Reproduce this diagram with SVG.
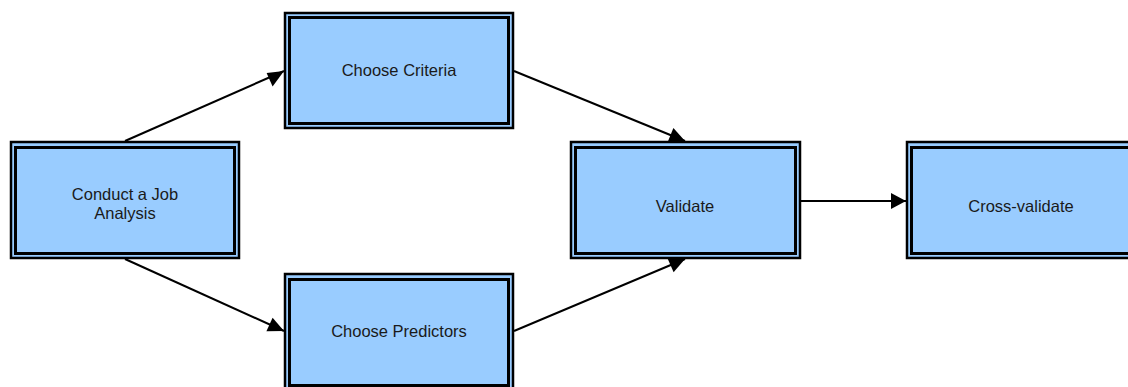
<svg xmlns="http://www.w3.org/2000/svg" width="1128" height="387" viewBox="0 0 1128 387">
<style>
.outer{fill:#99CCFF;stroke:#000;stroke-width:2.5}
.inner{fill:#99CCFF;stroke:#000;stroke-width:3}
.lbl{font-family:"Liberation Sans",Arial,sans-serif;font-size:16.5px;fill:#1a1a1a;text-anchor:middle}
.conn{stroke:#000;stroke-width:2;fill:none}
.head{fill:#000}
</style>
<rect width="1128" height="387" fill="#fff"/>
<g id="connectors">
<path class="conn" d="M125,141 L284,71"/>
<path class="conn" d="M125,259 L284,331"/>
<path class="conn" d="M514,71 L685,141"/>
<path class="conn" d="M514,331 L685,259"/>
<path class="conn" d="M801,201 L906,201"/>
<polygon class="head" points="284,71 266.6,72.9 272.6,86.6"/>
<polygon class="head" points="284,331 272.6,317.7 266.4,331.3"/>
<polygon class="head" points="685,141 673.4,127.9 667.8,141.8"/>
<polygon class="head" points="685,259 667.6,258.6 673.6,272.3"/>
<polygon class="head" points="906,201 891,193 891,209"/>
</g>
<g id="node-job">
<rect class="outer" x="11" y="142" width="228" height="116"/>
<rect class="inner" x="15.5" y="147.5" width="219" height="106"/>
<text class="lbl" x="125" y="200">Conduct a Job</text>
<text class="lbl" x="125" y="219">Analysis</text>
</g>
<g id="node-criteria">
<rect class="outer" x="285" y="13" width="228" height="115"/>
<rect class="inner" x="289.5" y="17.5" width="219" height="106"/>
<text class="lbl" x="399" y="75.5">Choose Criteria</text>
</g>
<g id="node-predictors">
<rect class="outer" x="285" y="274" width="228" height="116"/>
<rect class="inner" x="289.5" y="279.5" width="219" height="106"/>
<text class="lbl" x="399" y="337">Choose Predictors</text>
</g>
<g id="node-validate">
<rect class="outer" x="571" y="142" width="229" height="116"/>
<rect class="inner" x="575.5" y="147.5" width="220" height="106"/>
<text class="lbl" x="685" y="212">Validate</text>
</g>
<g id="node-cross">
<rect class="outer" x="907" y="142" width="229" height="116"/>
<rect class="inner" x="911.5" y="147.5" width="220" height="106"/>
<text class="lbl" x="1021" y="212">Cross-validate</text>
</g>
</svg>
